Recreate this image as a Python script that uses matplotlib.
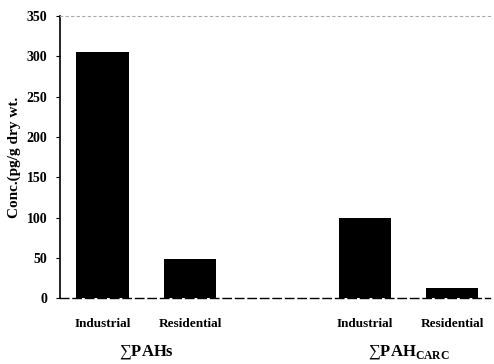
import numpy as np
import matplotlib.pyplot as plt

# Concentrations by site type
sites = ['Industrial', 'Residential', 'Industrial', 'Residential']
conc = [305, 48, 100, 12]
groups = ['$\\sum$PAHs', '$\\sum$PAH$_{\\mathregular{CARC}}$']
xpos = [0, 1, 3, 4]

plt.rcParams['font.family'] = 'Liberation Serif'
plt.rcParams['mathtext.fontset'] = 'custom'
plt.rcParams['mathtext.rm'] = 'Liberation Serif'
plt.rcParams['mathtext.bf'] = 'Liberation Serif:bold'

fig = plt.figure(figsize=(4.94, 3.64), dpi=100)
ax = fig.add_axes([0.1215, 0.181, 0.870, 0.775])

ax.bar(xpos, conc, width=0.6, color='black')

ax.set_xlim(-0.486, 4.43)
ax.set_ylim(0, 350)
ax.set_yticks(np.arange(0, 351, 50))
ax.tick_params(axis='y', direction='out', length=3, labelsize=10, pad=6)
for lab in ax.get_yticklabels():
    lab.set_fontweight('bold')

ax.set_xticks(xpos)
ax.set_xticklabels(sites, fontsize=9.5, fontweight='bold')
ax.tick_params(axis='x', length=0, pad=14)

ax.set_ylabel('Conc.(pg/g dry wt.', fontsize=11, fontweight='bold', labelpad=4)

for gx, g in zip([0.5, 3.5], groups):
    ax.text(gx, -0.19, g, transform=ax.get_xaxis_transform(),
            ha='center', va='center', fontsize=12, fontweight='bold')

ax.spines['right'].set_visible(False)
ax.spines['top'].set_linestyle((0, (2, 3)))
ax.spines['top'].set_color('#aaaaaa')
ax.spines['top'].set_linewidth(0.8)
ax.spines['bottom'].set_linestyle((0, (6, 3)))
ax.spines['bottom'].set_linewidth(1.0)
ax.spines['left'].set_linewidth(1.2)

fig.savefig('out.png', dpi=100)
